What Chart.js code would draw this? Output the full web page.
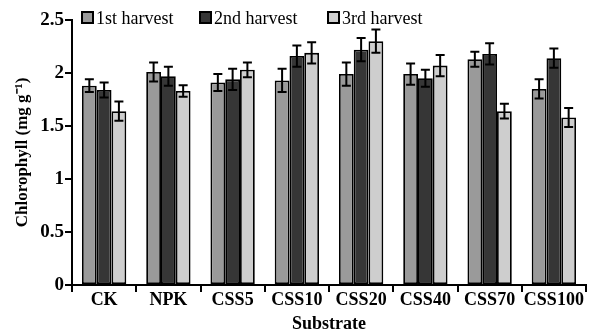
<!DOCTYPE html>
<html>
<head>
<meta charset="utf-8">
<script src="https://cdn.jsdelivr.net/npm/chart.js@4.4.1/dist/chart.umd.min.js"></script>
<style>
html,body{margin:0;padding:0;background:#fff;}
#wrap{width:589px;height:335px;}
</style>
</head>
<body>
<div id="wrap"><canvas id="c" width="589" height="335"></canvas></div>
<script>
const categories = ['CK','NPK','CSS5','CSS10','CSS20','CSS40','CSS70','CSS100'];
const seriesNames = ['1st harvest','2nd harvest','3rd harvest'];
const harvest1 = [1.88,2.01,1.91,1.93,1.99,1.99,2.13,1.85];
const harvest2 = [1.84,1.97,1.94,2.16,2.22,1.95,2.18,2.14];
const harvest3 = [1.64,1.83,2.03,2.19,2.30,2.07,1.64,1.58];
const err1 = [0.06,0.09,0.08,0.11,0.11,0.10,0.07,0.09];
const err2 = [0.07,0.09,0.10,0.10,0.11,0.08,0.10,0.09];
const err3 = [0.09,0.055,0.07,0.10,0.11,0.10,0.07,0.09];
const yTicks = [0,0.5,1,1.5,2,2.5];

const FONT = "'Liberation Serif','Times New Roman',serif";
const colors = ['#9a9a9a','#363636','#cecece'];
const errs = [err1, err2, err3];

const errorBarPlugin = {
  id: 'errorBars',
  afterDatasetsDraw(chart) {
    const ctx = chart.ctx;
    const yScale = chart.scales.y;
    ctx.save();
    ctx.strokeStyle = '#000';
    ctx.lineWidth = 2;
    chart.data.datasets.forEach((ds, di) => {
      const meta = chart.getDatasetMeta(di);
      meta.data.forEach((bar, i) => {
        const v = ds.data[i], e = ds.errors[i];
        const x = bar.x;
        const yTop = yScale.getPixelForValue(v + e);
        const yBot = yScale.getPixelForValue(v - e);
        const cw = 4.5;
        ctx.beginPath();
        ctx.moveTo(x, yTop); ctx.lineTo(x, yBot);
        ctx.moveTo(x - cw, yTop); ctx.lineTo(x + cw, yTop);
        ctx.moveTo(x - cw, yBot); ctx.lineTo(x + cw, yBot);
        ctx.stroke();
      });
    });
    ctx.restore();
  }
};

const legendPlugin = {
  id: 'topLegend',
  afterDraw(chart) {
    const ctx = chart.ctx;
    const starts = [82, 200, 328];
    ctx.save();
    ctx.font = "18px " + FONT;
    ctx.textBaseline = 'alphabetic';
    ctx.textAlign = 'left';
    chart.data.datasets.forEach((ds, i) => {
      const x = starts[i];
      ctx.fillStyle = ds.backgroundColor;
      ctx.fillRect(x, 12, 11, 11);
      ctx.strokeStyle = '#000';
      ctx.lineWidth = 2;
      ctx.strokeRect(x, 12, 11, 11);
      ctx.fillStyle = '#000';
      ctx.fillText(ds.label, x + 14, 24);
    });
    ctx.restore();
  }
};

const datasets = [harvest1, harvest2, harvest3].map((d, i) => ({
  label: seriesNames[i],
  data: d,
  errors: errs[i],
  backgroundColor: colors[i],
  borderColor: '#000',
  borderWidth: 1.8,
  borderSkipped: false,
  categoryPercentage: 0.69,
  barPercentage: 1.0
}));

new Chart(document.getElementById('c'), {
  type: 'bar',
  data: { labels: categories, datasets },
  plugins: [errorBarPlugin, legendPlugin],
  options: {
    responsive: false,
    devicePixelRatio: 1,
    animation: false,
    layout: { padding: { top: 20, right: 3, left: 0, bottom: 0 } },
    plugins: { legend: { display: false }, tooltip: { enabled: false } },
    scales: {
      x: {
        grid: { display: true, offset: true, drawOnChartArea: false, drawTicks: true, tickLength: 7, color: '#000', lineWidth: 2, tickColor: '#000', tickWidth: 2 },
        border: { display: true, color: '#000', width: 2 },
        ticks: { color: '#000', font: { family: FONT, size: 18, weight: 'bold' }, padding: -2, maxRotation: 0, autoSkip: false },
        title: { display: true, text: 'Substrate', color: '#000', font: { family: FONT, size: 18, weight: 'bold' }, padding: { top: 0, bottom: 0 } },
        afterFit(scale) { scale.height = 50; }
      },
      y: {
        min: 0, max: 2.5,
        afterBuildTicks(scale) { scale.ticks = yTicks.map(v => ({ value: v })); },
        grid: { display: true, drawOnChartArea: false, drawTicks: true, tickLength: 7, color: '#000', lineWidth: 2, tickColor: '#000', tickWidth: 2 },
        border: { display: true, color: '#000', width: 2 },
        ticks: { color: '#000', font: { family: FONT, size: 19, weight: 'bold' }, padding: 1, callback: (v) => String(v) },
        title: { display: true, text: 'Chlorophyll (mg g\u207B\u00B9)', color: '#000', font: { family: FONT, size: 17, weight: 'bold' }, padding: { top: 12, bottom: 0 } },
        afterFit(scale) { scale.width = 72; }
      }
    }
  }
});
</script>
</body>
</html>
